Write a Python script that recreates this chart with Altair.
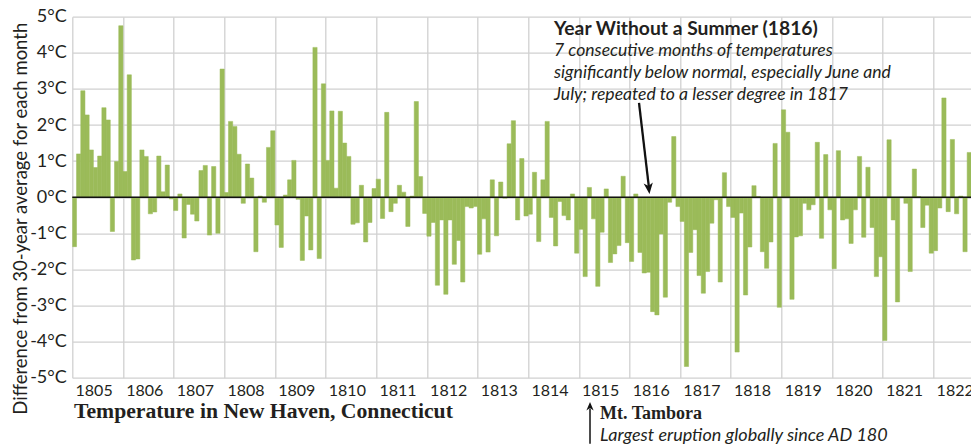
import altair as alt
import pandas as pd

years = list(range(1805, 1823))
month_labels = ["Jan", "Feb", "Mar", "Apr", "May", "Jun", "Jul", "Aug", "Sep", "Oct", "Nov", "Dec"]

# Monthly temperature anomalies (°C), New Haven, Jan 1805 - Nov 1822
t1805 = [-1.37, 1.2, 2.95, 2.28, 1.31, 0.82, 1.14, 2.48, 2.14, -0.95, 0.99, 4.75]
t1806 = [0.71, 3.39, -1.74, -1.71, 1.31, 1.13, -0.46, -0.41, 1.14, 0.15, 0.89, -0.05]
t1807 = [-0.37, 0.09, -1.13, -0.2, -0.47, -0.66, 0.74, 0.88, -1.05, 0.85, -1.0, 3.55]
t1808 = [0.13, 2.1, 1.96, 1.19, -0.17, 0.92, 0.53, -1.51, 0.03, -0.14, 1.38, 1.84]
t1809 = [-0.77, -1.39, 0.06, 0.48, 1.02, -0.06, -1.75, -0.52, -1.46, 4.15, -1.7, 3.14]
t1810 = [1.02, 2.39, 0.25, 2.38, 1.5, 1.13, -0.75, -0.71, 0.33, -1.24, -0.7, 0.24]
t1811 = [0.5, -0.59, 2.35, -0.4, -0.17, 0.33, 0.14, -0.81, 0.03, 2.65, 0.57, -0.45]
t1812 = [-1.08, -0.7, -2.44, -0.63, -2.69, -0.63, -1.86, -1.2, -2.35, -0.26, -0.3, -0.26]
t1813 = [-1.58, -0.6, -1.52, 0.48, -1.07, 0.42, -0.03, 1.48, 2.12, -0.63, 1.07, -0.52]
t1814 = [-0.47, 0.69, -1.23, 0.48, 2.1, -0.56, -1.35, -0.12, -0.51, -0.63, 0.09, -1.55]
t1815 = [-0.89, -2.2, 0.27, -0.6, -2.47, -0.97, 0.23, -1.81, -1.57, -1.34, 0.58, -1.26]
t1816 = [-1.78, 0.09, -1.53, -2.1, -2.08, -3.17, -3.26, -1.02, -2.77, -0.14, 1.68, -0.26]
t1817 = [-0.67, -4.69, -1.53, -0.9, -2.17, -2.66, -2.06, -0.72, -0.07, -2.35, 0.68, -0.26]
t1818 = [-0.56, -4.29, -0.44, -2.71, -1.38, 0.32, 0.02, -1.51, -1.97, -1.24, 1.49, -3.05]
t1819 = [2.42, 1.8, -2.83, -1.1, -1.07, -0.17, -0.35, -0.21, 1.52, -1.14, 1.18, -0.35]
t1820 = [-1.98, 1.29, -0.63, -0.6, -1.28, -0.35, 1.13, -1.11, 0.83, -0.84, -2.2, -1.65]
t1821 = [-3.97, 1.59, -0.63, -2.9, 0.0, -0.17, -2.06, 0.78, 0.02, -0.84, -0.22, -1.55]
t1822 = [-1.48, -0.3, 2.75, -0.4, 1.6, -0.46, 0.03, -1.51, 1.24, 0.76, 2.17]

y_ticks = [-5, -4, -3, -2, -1, 0, 1, 2, 3, 4, 5]

series = [t1805, t1806, t1807, t1808, t1809, t1810, t1811, t1812, t1813,
          t1814, t1815, t1816, t1817, t1818, t1819, t1820, t1821, t1822]

rows = []
for yi, (yr, vals) in enumerate(zip(years, series)):
    for mi, v in enumerate(vals):
        idx = yi * 12 + mi
        rows.append({"start": idx, "end": idx + 1, "value": v,
                     "label": f"{month_labels[mi]} {yr}"})
df = pd.DataFrame(rows)

TXT = "#231f20"
GREEN = "#9bbb59"
SANS = "Lato"
SERIF = "Liberation Serif"

PLOT_W = 898.7
xscale = alt.Scale(domain=[0, PLOT_W / 4.221], nice=False, zero=False)
yscale = alt.Scale(domain=[-5, 5], nice=False)

xaxis = alt.Axis(values=[i * 12 for i in range(18)],
                 labelExpr="'' + (1805 + datum.value / 12)",
                 labelOffset=21.3, labelFlush=False, labelOverlap=False,
                 labelFont=SANS, labelFontSize=16, labelColor=TXT,
                 labelPadding=5, ticks=False, domain=False,
                 grid=True, gridColor="#d0d0d0", gridWidth=1.3, title=None)
yaxis = alt.Axis(values=y_ticks, tickCount=11, labelExpr="datum.value + '°C'",
                 labelOverlap=False, labelFlush=False,
                 labelFont=SANS, labelFontSize=18, labelColor=TXT,
                 labelPadding=6, ticks=False, domain=False,
                 grid=True, gridColor="#d0d0d0", gridWidth=1.3,
                 title="Difference from 30-year average for each month",
                 titleFont=SANS, titleFontSize=18.5, titleFontWeight="normal",
                 titleColor=TXT, titleAngle=270, titleX=-52.3, titleY=201.5,
                 titleAlign="center", titleBaseline="middle")

bars = alt.Chart(df).mark_bar(color=GREEN, clip=True, stroke=GREEN, strokeWidth=0.5).encode(
    x=alt.X("start:Q", scale=xscale, axis=xaxis),
    x2="end:Q",
    y=alt.Y("value:Q", scale=yscale, axis=yaxis),
    y2=alt.datum(0),
)

zero = alt.Chart(pd.DataFrame({"v": [0]})).mark_rule(color="#111111", strokeWidth=1.6).encode(
    y=alt.Y("v:Q", scale=yscale, axis=yaxis)
)

# Arrows (annotation geometry in data coordinates)
arrow_lines = pd.DataFrame({
    "x": [134.26, 122.65], "y": [2.61, -6.83],
    "x2": [136.58, 122.65], "y2": [0.30, -5.85],
    "w": [2.3, 1.5],
})
lines = alt.Chart(arrow_lines).mark_rule(color="#111111").encode(
    x=alt.X("x:Q", scale=xscale, axis=xaxis), y=alt.Y("y:Q", scale=yscale, axis=yaxis),
    x2="x2:Q", y2="y2:Q",
    strokeWidth=alt.StrokeWidth("w:Q", scale=None, legend=None),
)
HEAD = "M0,0L-0.42,-1L0,-0.72L0.42,-1Z"
head1 = alt.Chart(pd.DataFrame({"x": [136.74], "y": [0.09]})).mark_point(
    shape=HEAD, filled=True, color="#111111", opacity=1, size=484, angle=353.4
).encode(x=alt.X("x:Q", scale=xscale, axis=xaxis), y=alt.Y("y:Q", scale=yscale, axis=yaxis))
head2 = alt.Chart(pd.DataFrame({"x": [122.65], "y": [-5.67]})).mark_point(
    shape=HEAD, filled=True, color="#111111", opacity=1, size=300, angle=180
).encode(x=alt.X("x:Q", scale=xscale, axis=xaxis), y=alt.Y("y:Q", scale=yscale, axis=yaxis))

def text(s, x, y, font, size, weight="normal", style="normal"):
    return alt.Chart(pd.DataFrame({"t": [s]})).mark_text(
        align="left", baseline="alphabetic", font=font, fontSize=size,
        fontWeight=weight, fontStyle=style, color=TXT
    ).encode(x=alt.value(x), y=alt.value(y), text="t:N")

texts = [
    text("Year Without a Summer (1816)", 481.7, 17.8, SANS, 19.3, weight="bold"),
    text("7 consecutive months of temperatures", 481.7, 39.3, SANS, 17.6, style="italic"),
    text("significantly below normal, especially June and", 481.7, 61.3, SANS, 17.6, style="italic"),
    text("July; repeated to a lesser degree in 1817", 481.7, 83.3, SANS, 17.6, style="italic"),
    text("Temperature in New Haven, Connecticut", 1.7, 401.3, SERIF, 21.7, weight="bold"),
    text("Mt. Tambora", 527.7, 402.3, SERIF, 18, weight="bold"),
    text("Largest eruption globally since AD 180", 527.7, 424.3, SANS, 18, style="italic"),
]

chart = alt.layer(bars, zero, lines, head1, head2, *texts).properties(
    width=PLOT_W, height=361,
    autosize=alt.AutoSizeParams(type="none"),
    padding={"left": 64.3, "top": 8.7, "right": 0, "bottom": 69.3},
    background="white",
).configure_view(stroke=None).configure_axisY(labelOverlap=False)

chart.save("out.html", embed_options={"renderer": "svg", "actions": False})
